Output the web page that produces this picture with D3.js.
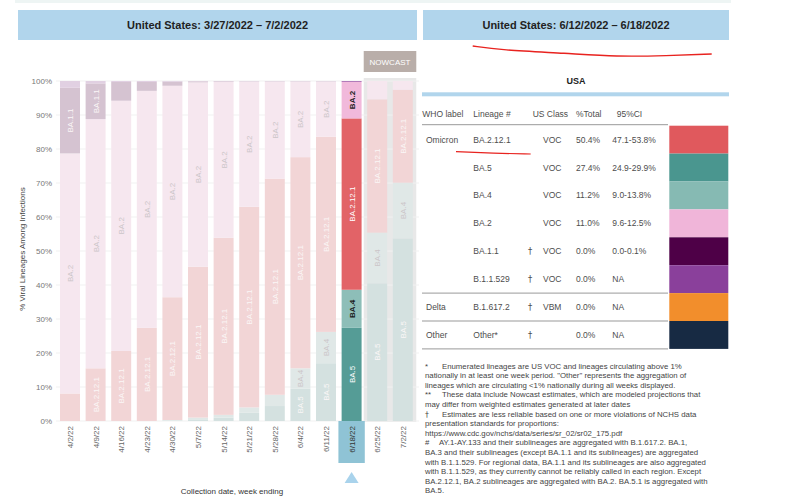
<!DOCTYPE html>
<html><head><meta charset="utf-8">
<script src="https://cdn.jsdelivr.net/npm/d3@7"></script>
<style>body{margin:0;background:#fff;} svg{display:block;font-family:"Liberation Sans",Arial,sans-serif;}</style>
</head><body><svg id="c" width="786" height="500"></svg>
<script>
// ---------------- DATA ----------------
const weeks = ["4/2/22","4/9/22","4/16/22","4/23/22","4/30/22","5/7/22","5/14/22","5/21/22","5/28/22","6/4/22","6/11/22","6/18/22","6/25/22","7/2/22"];
const lineageOrder = ["BA.5","BA.4","BA.2.12.1","BA.2","BA.1.1","B.1.1.529"];
const ba5      = [0,0,0,0,0.1,0.5,1.0,2.4,4.4,9.5,17.0,27.4,40.5,53.7];
const ba4      = [0,0,0,0,0.2,0.5,0.8,1.6,3.3,6.0,9.2,11.2,14.9,16.4];
const ba2121   = [8.1,15.5,20.6,27.4,36.1,44.4,52.1,59.0,63.6,62.1,57.4,50.4,39.2,27.3];
const ba2      = [70.6,73.3,73.6,69.7,62.2,54.2,45.8,36.8,28.5,22.2,16.2,10.8,5.4,2.6];
const ba11     = [19.3,10.5,5.5,2.6,1.2,0.3,0.2,0.1,0.1,0.1,0.1,0,0,0];
const b11529   = [2.0,0.7,0.3,0.3,0.2,0.1,0.1,0.1,0.1,0.1,0.1,0.2,0,0];
const highlightWeek = "6/18/22";
const nowcastWeeks = ["6/25/22","7/2/22"];
const yTicks = [0,10,20,30,40,50,60,70,80,90,100];

const leftTitle = "United States: 3/27/2022 \u2013 7/2/2022";
const rightTitle = "United States: 6/12/2022 \u2013 6/18/2022";

const tableHeaders = ["WHO label","Lineage #","US Class","%Total","95%CI"];
const whoLabels = ["Omicron","","","","","","Delta","Other"];
const tableLineages = ["BA.2.12.1","BA.5","BA.4","BA.2","BA.1.1","B.1.1.529","B.1.617.2","Other*"];
const daggers = ["","","","","\u2020","\u2020","\u2020","\u2020"];
const usClass = ["VOC","VOC","VOC","VOC","VOC","VOC","VBM",""];
const pctTotal = ["50.4%","27.4%","11.2%","11.0%","0.0%","0.0%","0.0%","0.0%"];
const ci95 = ["47.1-53.8%","24.9-29.9%","9.0-13.8%","9.6-12.5%","0.0-0.1%","NA","NA","NA"];

const footnotes = [
  ["*","Enumerated lineages are US VOC and lineages circulating above 1%"],
  ["","nationally in at least one week period. \"Other\" represents the aggregation of"],
  ["","lineages which are circulating <1% nationally during all weeks displayed."],
  ["**","These data include Nowcast estimates, which are modeled projections that"],
  ["","may differ from weighted estimates generated at later dates"],
  ["\u2020","Estimates are less reliable based on one or more violations of NCHS data"],
  ["","presentation standards for proportions:"],
  ["","https://www.cdc.gov/nchs/data/series/sr_02/sr02_175.pdf"],
  ["#","AY.1-AY.133 and their sublineages are aggregated with B.1.617.2. BA.1,"],
  ["","BA.3 and their sublineages (except BA.1.1 and its sublineages) are aggregated"],
  ["","with B.1.1.529. For regional data, BA.1.1 and its sublineages are also aggregated"],
  ["","with B.1.1.529, as they currently cannot be reliably called in each region. Except"],
  ["","BA.2.12.1, BA.2 sublineages are aggregated with BA.2. BA.5.1 is aggregated with"],
  ["","BA.5."]
];

// ---------------- STYLE ----------------
const colors = {"BA.2.12.1":"#e0595d","BA.5":"#4a968f","BA.4":"#86bab3","BA.2":"#f0b5d9","BA.1.1":"#4e0047","B.1.1.529":"#8a409b","B.1.617.2":"#f28e2c","Other*":"#172a43"};
const darkLabel = {"BA.2":true,"BA.4":true};
const fade = c => d3.interpolateRgb(c, "#f7f4f4")(0.8);
const FONT_GRAY = "#4d4d4d";

const series = {"BA.5":ba5,"BA.4":ba4,"BA.2.12.1":ba2121,"BA.2":ba2,"BA.1.1":ba11,"B.1.1.529":b11529};
const rows = weeks.map((w,i)=>{const r={week:w}; lineageOrder.forEach(k=>r[k]=series[k][i]); return r;});

const svg = d3.select("#c");

// background strips
svg.append("rect").attr("x",15).attr("y",0).attr("width",716).attr("height",3).attr("fill","#eef5f4");
svg.append("rect").attr("x",18).attr("y",10).attr("width",399).attr("height",30).attr("fill","#b1d5ec");
svg.append("rect").attr("x",423).attr("y",10).attr("width",306).attr("height",30).attr("fill","#b1d5ec");
svg.append("text").attr("x",217.5).attr("y",29).attr("text-anchor","middle").attr("font-size",11).attr("font-weight","bold").attr("fill","#222").text(leftTitle);
svg.append("text").attr("x",576).attr("y",29).attr("text-anchor","middle").attr("font-size",11).attr("font-weight","bold").attr("fill","#222").text(rightTitle);

// scales
const x = d3.scaleBand().domain(weeks).range([57.2,415.6]).paddingInner(0.22).paddingOuter(0.11);
const y = d3.scaleLinear().domain([0,100]).range([421,81]);

// nowcast panel
const nx0 = x(nowcastWeeks[0]) - 3.5, nx1 = x(nowcastWeeks[nowcastWeeks.length-1]) + x.bandwidth() + 3.5;
svg.append("rect").attr("x",nx0).attr("y",78).attr("width",nx1-nx0).attr("height",344).attr("fill","#e8e8e8");
svg.append("rect").attr("x",nx0).attr("y",51).attr("width",nx1-nx0).attr("height",21).attr("fill","#b9aea9");
svg.append("text").attr("x",(nx0+nx1)/2).attr("y",64.5).attr("text-anchor","middle").attr("font-size",8).attr("fill","#fff").text("NOWCAST");

// gridlines
svg.append("g").selectAll("line").data(yTicks).join("line")
  .attr("x1",56).attr("x2",419).attr("y1",d=>y(d)).attr("y2",d=>y(d))
  .attr("stroke","#f1f1f1").attr("stroke-width",1);

// y axis labels
const yAxis = d3.axisLeft(y).tickValues(yTicks).tickFormat(d=>d+"%").tickSize(0).tickPadding(0);
const yg = svg.append("g").attr("transform","translate(52,0)").call(yAxis);
yg.select(".domain").remove();
yg.selectAll("text").attr("font-size",8).attr("fill","#777").attr("font-family","Liberation Sans, Arial, sans-serif");

svg.append("text").attr("transform","translate(25,249) rotate(-90)").attr("text-anchor","middle")
  .attr("font-size",8).attr("fill","#444").text("% Viral Lineages Among Infections");

// stacked bars
const stack = d3.stack().keys(lineageOrder)(rows);
const barG = svg.append("g");
stack.forEach(layer=>{
  const key = layer.key;
  layer.forEach(seg=>{
    const w = seg.data.week;
    const h = y(seg[0]) - y(seg[1]);
    if (h <= 0) return;
    const hl = w === highlightWeek;
    barG.append("rect").attr("x",x(w)).attr("y",y(seg[1])).attr("width",x.bandwidth()).attr("height",h)
      .attr("fill", hl ? d3.interpolateRgb(colors[key],"#fff")(0.06) : fade(colors[key]));
  });
});
// labels
const labG = svg.append("g");
stack.forEach(layer=>{
  const key = layer.key;
  layer.forEach(seg=>{
    const w = seg.data.week;
    const h = y(seg[0]) - y(seg[1]);
    if (h <= 0) return;
    const hl = w === highlightWeek;
    const cx = x(w) + x.bandwidth()/2, cy = (y(seg[0]) + y(seg[1]))/2;
    const t = labG.append("text").attr("transform",`translate(${cx+2.9},${cy}) rotate(-90)`)
      .attr("text-anchor","middle").attr("font-size",8)
      .attr("font-weight", hl && darkLabel[key] ? "bold" : "normal")
      .attr("fill", hl ? (darkLabel[key] ? "#1a1a1a" : "#fff") : (darkLabel[key] ? "#cbc5c8" : "#fbf7f7"))
      .text(key);
    if (t.node().getComputedTextLength() > h - 2) t.remove();
  });
});

// x labels
const hx = x(highlightWeek);
svg.append("rect").attr("x",hx-3.2).attr("y",421).attr("width",x.bandwidth()+6.4).attr("height",42).attr("fill","#8fc3d5");
svg.append("path").attr("d",d3.line()([[hx+x.bandwidth()/2,472],[hx+x.bandwidth()/2+7,483],[hx+x.bandwidth()/2-7,483]])+"Z").attr("fill","#a9d3ec");
svg.append("g").selectAll("text").data(weeks).join("text")
  .attr("transform",d=>`translate(${x(d)+x.bandwidth()/2+2.9},426) rotate(-90)`)
  .attr("text-anchor","end").attr("font-size",8).attr("fill",d=>d===highlightWeek?"#333":"#666").text(d=>d);
svg.append("text").attr("x",232).attr("y",494).attr("text-anchor","middle").attr("font-size",8).attr("fill","#333").text("Collection date, week ending");

// ---------------- TABLE ----------------
svg.append("text").attr("x",576).attr("y",84).attr("text-anchor","middle").attr("font-size",9).attr("font-weight","bold").attr("fill","#222").text("USA");
svg.append("rect").attr("x",422).attr("y",92.3).attr("width",307).attr("height",4).attr("fill","#b1d5ec");
const hdrX = [422.3,473.3,532.7,576,616.7];
svg.append("g").selectAll("text").data(tableHeaders).join("text")
  .attr("x",(d,i)=>hdrX[i]).attr("y",117).attr("font-size",8.5).attr("fill",FONT_GRAY).text(d=>d);
svg.append("line").attr("x1",422).attr("x2",668).attr("y1",124.7).attr("y2",124.7).attr("stroke","#999");
const rowTop = 125.7, rowH = 27.9;
const tg = svg.append("g");
tableLineages.forEach((lin,i)=>{
  const ty = rowTop + rowH*i + rowH/2 + 3;
  tg.append("text").attr("x",426).attr("y",ty).attr("font-size",8.5).attr("fill",FONT_GRAY).text(whoLabels[i]);
  tg.append("text").attr("x",473.3).attr("y",ty).attr("font-size",8.5).attr("fill",FONT_GRAY).text(lin);
  tg.append("text").attr("x",530).attr("y",ty).attr("text-anchor","middle").attr("font-size",8.5)
    .attr("font-family","DejaVu Sans, sans-serif").attr("fill",FONT_GRAY).text(daggers[i]);
  tg.append("text").attr("x",543).attr("y",ty).attr("font-size",8.5).attr("fill",FONT_GRAY).text(usClass[i]);
  tg.append("text").attr("x",576).attr("y",ty).attr("font-size",8.5).attr("fill",FONT_GRAY).text(pctTotal[i]);
  tg.append("text").attr("x",612.3).attr("y",ty).attr("font-size",8.5).attr("fill",FONT_GRAY).text(ci95[i]);
  tg.append("rect").attr("x",669.3).attr("y",rowTop+rowH*i).attr("width",59).attr("height",rowH).attr("fill",colors[lin]);
});
[6,7,8].forEach(k=>{
  tg.append("line").attr("x1",422).attr("x2",668).attr("y1",rowTop+rowH*k).attr("y2",rowTop+rowH*k).attr("stroke","#999");
});

// footnotes
const fg = svg.append("g");
footnotes.forEach((f,i)=>{
  const fy = 368.5 + i*9.6;
  if (f[0]) {
    fg.append("text").attr("x",425).attr("y",fy).attr("font-size",7.8).attr("fill","#444")
      .attr("font-family", f[0]==="\u2020" ? "DejaVu Sans, sans-serif" : null).text(f[0]);
    fg.append("text").attr("x",f[0]==="#"?439:442).attr("y",fy).attr("font-size",7.8).attr("fill","#444").text(f[1]);
  } else {
    fg.append("text").attr("x",425).attr("y",fy).attr("font-size",7.8).attr("fill","#444").text(f[1]);
  }
});

// red hand annotations
const redLine = d3.line().curve(d3.curveBasis);
svg.append("path").attr("d",redLine([[472.7,46],[500,50],[566.7,53.3],[616.7,56.7],[666.7,55.7],[711.7,54]]))
  .attr("fill","none").attr("stroke","#e8231f").attr("stroke-width",1.4);
svg.append("path").attr("d",redLine([[456,151.7],[493.3,153.3],[530.7,154]]))
  .attr("fill","none").attr("stroke","#e8231f").attr("stroke-width",1.2);
</script></body></html>
